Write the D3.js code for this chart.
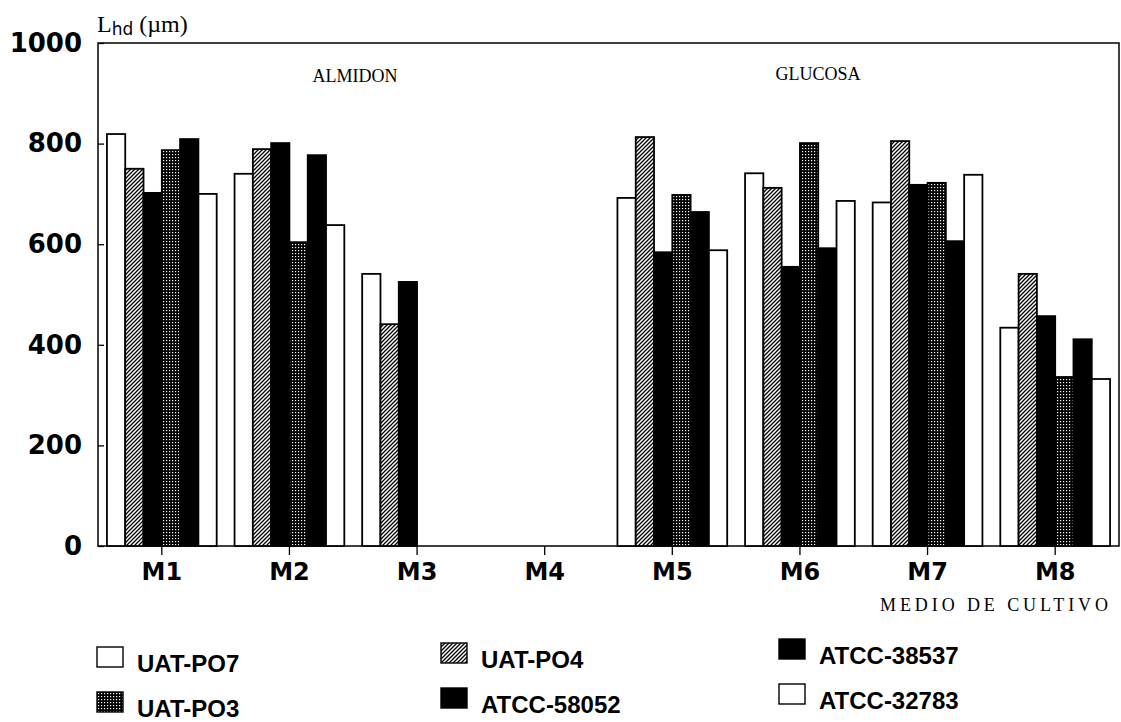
<!DOCTYPE html>
<html>
<head>
<meta charset="utf-8">
<script src="https://cdn.jsdelivr.net/npm/d3@7"></script>
<style>
  body { margin: 0; background: #fff; }
  svg { display: block; }
</style>
</head>
<body>
<svg width="1121" height="722"></svg>
<script>
var medios = ['M1', 'M2', 'M3', 'M4', 'M5', 'M6', 'M7', 'M8'];
var cepas = ['UAT-PO7', 'UAT-PO4', 'ATCC-38537', 'UAT-PO3', 'ATCC-58052', 'ATCC-32783'];
var yTicks = [0, 200, 400, 600, 800, 1000];

var uatPO7    = [819, 740, 541, 0, 692, 741, 683, 434];
var uatPO4    = [750, 789, 441, 0, 813, 712, 805, 541];
var atcc38537 = [702, 801, 525, 0, 584, 555, 718, 457];
var uatPO3    = [787, 604, 0, 0, 698, 801, 722, 336];
var atcc58052 = [809, 777, 0, 0, 664, 592, 606, 411];
var atcc32783 = [700, 638, 0, 0, 588, 686, 738, 332];

var series = [uatPO7, uatPO4, atcc38537, uatPO3, atcc58052, atcc32783];
var fills = ['#fff', 'url(#hatch)', '#000', 'url(#dots)', '#000', '#fff'];

var svg = d3.select('svg');

// patterns
var defs = svg.append('defs');
var hatch = defs.append('pattern')
  .attr('id', 'hatch')
  .attr('patternUnits', 'userSpaceOnUse')
  .attr('width', 4).attr('height', 4);
hatch.append('rect').attr('width', 4).attr('height', 4).attr('fill', '#fff');
hatch.append('path')
  .attr('d', 'M-1,1 l2,-2 M0,4 l4,-4 M3,5 l2,-2')
  .attr('stroke', '#000').attr('stroke-width', 1.3);

var dots = defs.append('pattern')
  .attr('id', 'dots')
  .attr('patternUnits', 'userSpaceOnUse')
  .attr('width', 3).attr('height', 3);
dots.append('rect').attr('width', 3).attr('height', 3).attr('fill', '#000');
dots.append('rect').attr('x', 1).attr('y', 1).attr('width', 1.2).attr('height', 1.2).attr('fill', '#fff');

var plotLeft = 98, plotRight = 1119, plotTop = 43, plotBottom = 546;

var x = d3.scaleBand()
  .domain(medios)
  .range([plotLeft, plotRight])
  .paddingInner(0.14)
  .paddingOuter(0.07);

var xs = d3.scaleBand()
  .domain(d3.range(cepas.length))
  .range([0, x.bandwidth()]);

var y = d3.scaleLinear()
  .domain([0, 1000])
  .range([plotBottom, plotTop]);

// box
svg.append('rect')
  .attr('x', plotLeft).attr('y', plotTop)
  .attr('width', plotRight - plotLeft).attr('height', plotBottom - plotTop)
  .attr('fill', 'none').attr('stroke', '#000').attr('stroke-width', 1.5);

// bars
var rows = [];
series.forEach(function(vals, s) {
  vals.forEach(function(v, m) {
    if (v > 0) rows.push({ medio: medios[m], s: s, v: v });
  });
});

svg.append('g')
  .selectAll('rect')
  .data(rows)
  .enter()
  .append('rect')
  .attr('x', function(d) { return x(d.medio) + xs(d.s); })
  .attr('y', function(d) { return y(d.v); })
  .attr('width', xs.bandwidth())
  .attr('height', function(d) { return y(0) - y(d.v); })
  .attr('fill', function(d) { return fills[d.s]; })
  .attr('stroke', '#000')
  .attr('stroke-width', 1.8);

// y axis
var yAxis = svg.append('g')
  .attr('transform', 'translate(' + plotLeft + ',0)')
  .call(d3.axisLeft(y).tickValues(yTicks).tickFormat(d3.format('d')).tickSize(-6).tickPadding(16));
yAxis.select('.domain').remove();
yAxis.selectAll('line').attr('stroke-width', 1.3);
yAxis.selectAll('text')
  .attr('font-family', 'DejaVu Sans')
  .attr('font-weight', 'bold')
  .attr('font-size', 26)
  .attr('fill', '#000');

// x axis
var xAxis = svg.append('g')
  .attr('transform', 'translate(0,' + plotBottom + ')')
  .call(d3.axisBottom(x).tickSize(9).tickPadding(8));
xAxis.select('.domain').remove();
xAxis.selectAll('line').attr('stroke-width', 1.3);
xAxis.selectAll('text')
  .attr('font-family', 'DejaVu Sans')
  .attr('font-weight', 'bold')
  .attr('font-size', 24)
  .attr('fill', '#000');

// titles
var yLabel = svg.append('text')
  .attr('x', 97).attr('y', 32)
  .attr('font-family', 'Liberation Serif')
  .attr('font-size', 24);
yLabel.append('tspan').text('L');
yLabel.append('tspan').attr('font-family', 'DejaVu Sans').attr('font-size', 17).attr('dy', 3).text('hd');
yLabel.append('tspan').attr('dy', -3).text(' (µm)');

svg.append('text')
  .attr('x', 355).attr('y', 82)
  .attr('text-anchor', 'middle')
  .attr('font-family', 'Liberation Serif')
  .attr('font-size', 18)
  .text('ALMIDON');

svg.append('text')
  .attr('x', 818).attr('y', 80)
  .attr('text-anchor', 'middle')
  .attr('font-family', 'Liberation Serif')
  .attr('font-size', 18)
  .text('GLUCOSA');

svg.append('text')
  .attr('x', 880).attr('y', 611)
  .attr('font-family', 'Liberation Serif')
  .attr('font-size', 18)
  .attr('textLength', 228)
  .attr('lengthAdjust', 'spacing')
  .text('MEDIO DE CULTIVO');

// legend
var colX = [97, 441, 779];
var legend = svg.append('g')
  .selectAll('g')
  .data(cepas)
  .enter()
  .append('g')
  .attr('transform', function(d, i) {
    var col = i % 3, row = Math.floor(i / 3);
    return 'translate(' + colX[col] + ',' + (647 - col * 4 + row * 45) + ')';
  });

legend.append('rect')
  .attr('width', 26).attr('height', 20)
  .attr('fill', function(d, i) { return fills[i]; })
  .attr('stroke', '#000').attr('stroke-width', 1.4);

legend.append('text')
  .attr('x', 40).attr('y', 25)
  .attr('font-family', 'Liberation Sans')
  .attr('font-weight', 'bold')
  .attr('font-size', 24)
  .text(function(d) { return d; });
</script>
</body>
</html>
